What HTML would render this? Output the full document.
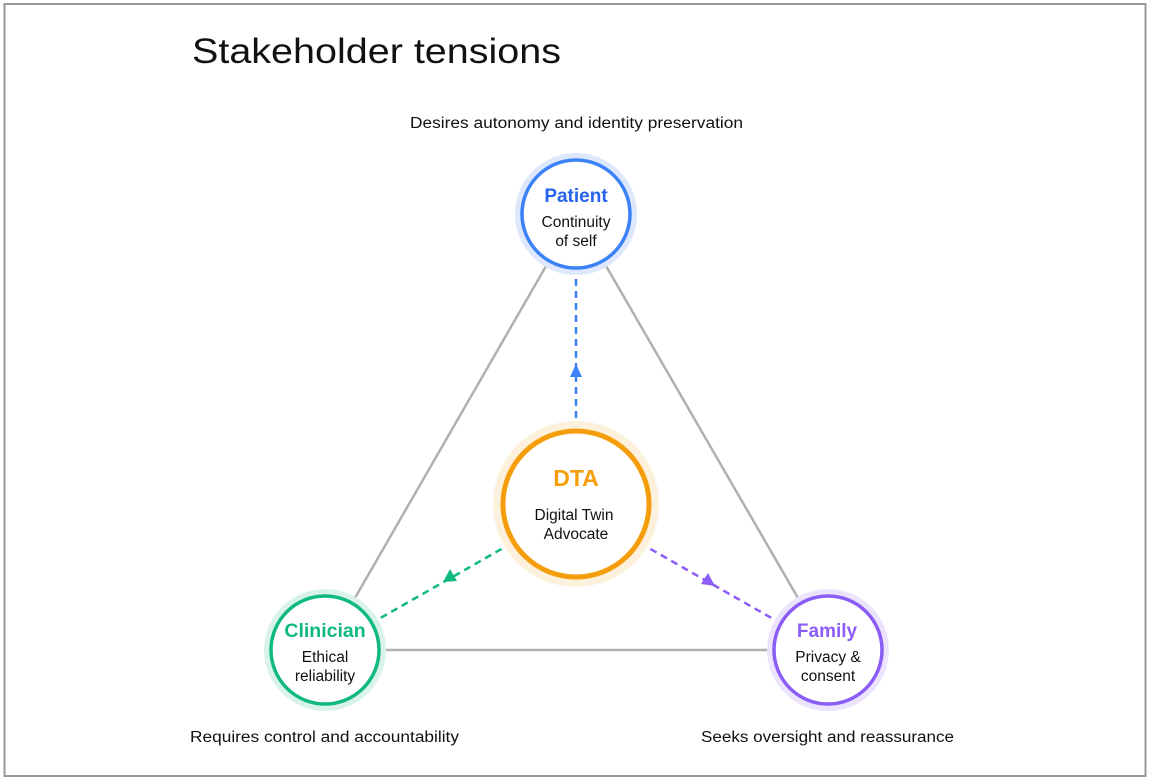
<!DOCTYPE html>
<html><head><meta charset="utf-8"><style>
html,body{margin:0;padding:0;background:#fff;width:1152px;height:779px;overflow:hidden}
svg{display:block;font-family:"Liberation Sans",sans-serif}
</style></head><body>
<svg width="1152" height="779" viewBox="0 0 1152 779">
<rect x="4.5" y="4" width="1141" height="772" fill="#fff" stroke="#999" stroke-width="2"/>
<text x="192" y="63" font-size="35" fill="#111" textLength="369" lengthAdjust="spacingAndGlyphs">Stakeholder tensions</text>
<text x="410" y="128" font-size="15.5" fill="#111" textLength="333" lengthAdjust="spacingAndGlyphs">Desires autonomy and identity preservation</text>
<text x="190" y="742" font-size="15.5" fill="#111" textLength="269" lengthAdjust="spacingAndGlyphs">Requires control and accountability</text>
<text x="701" y="742" font-size="15.5" fill="#111" textLength="253" lengthAdjust="spacingAndGlyphs">Seeks oversight and reassurance</text>
<g stroke="#b0b0b0" stroke-width="2.5" fill="none">
<line x1="576" y1="214" x2="325" y2="650"/>
<line x1="576" y1="214" x2="828" y2="650"/>
<line x1="325" y1="650" x2="828" y2="650"/>
</g>
<g stroke-width="2.5" stroke-dasharray="7,5" fill="none">
<line x1="576" y1="430" x2="576" y2="268" stroke="#3b82f6"/>
<line x1="512" y1="543" x2="377" y2="620" stroke="#10b981"/>
<line x1="640" y1="543" x2="775" y2="620" stroke="#8b5cf6"/>
</g>
<polygon points="576,364 570,377 582,377" fill="#3b82f6"/>
<polygon points="443,582 457,581 450,569" fill="#10b981"/>
<polygon points="715,586 701,584 708,573" fill="#8b5cf6"/>
<circle cx="576" cy="214" r="61" fill="#dde8fc"/>
<circle cx="576" cy="214" r="54" fill="#fff" stroke="#3b82f6" stroke-width="3.5"/>
<text x="576" y="202" font-size="19" font-weight="bold" fill="#2563eb" text-anchor="middle">Patient</text>
<text x="576" y="227" font-size="15.5" fill="#111" text-anchor="middle">Continuity</text>
<text x="576" y="246" font-size="15.5" fill="#111" text-anchor="middle">of self</text>
<circle cx="576" cy="504" r="83" fill="#fdf0dc"/>
<circle cx="576" cy="504" r="73" fill="#fff" stroke="#f59e0b" stroke-width="5"/>
<text x="576" y="486" font-size="23" font-weight="bold" fill="#f59e0b" text-anchor="middle">DTA</text>
<text x="574" y="520" font-size="15.5" fill="#111" text-anchor="middle">Digital Twin</text>
<text x="576" y="539" font-size="15.5" fill="#111" text-anchor="middle">Advocate</text>
<circle cx="325" cy="650" r="61" fill="#d9f3ea"/>
<circle cx="325" cy="650" r="54" fill="#fff" stroke="#10b981" stroke-width="3.5"/>
<text x="325" y="637" font-size="19.5" font-weight="bold" fill="#10b981" text-anchor="middle">Clinician</text>
<text x="325" y="662" font-size="15.5" fill="#111" text-anchor="middle">Ethical</text>
<text x="325" y="681" font-size="15.5" fill="#111" text-anchor="middle">reliability</text>
<circle cx="828" cy="650" r="61" fill="#ece4fd"/>
<circle cx="828" cy="650" r="54" fill="#fff" stroke="#8b5cf6" stroke-width="3.5"/>
<text x="827" y="637" font-size="19" font-weight="bold" fill="#8b5cf6" text-anchor="middle">Family</text>
<text x="828" y="662" font-size="15.5" fill="#111" text-anchor="middle">Privacy &amp;</text>
<text x="828" y="681" font-size="15.5" fill="#111" text-anchor="middle">consent</text>
</svg>
</body></html>
